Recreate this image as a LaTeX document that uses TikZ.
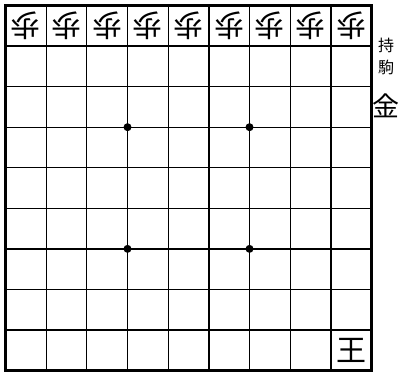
\documentclass[tikz,border=0pt]{standalone}
\usepackage{fontspec}
\newfontfamily\cjk{Noto Sans CJK JP}
\tikzset{
  gridline/.style={line width=1.3pt, black},
  border/.style={line width=3.5pt, black},
  star/.style={circle, fill=black, inner sep=0pt, minimum size=8pt},
  piece/.style={inner sep=0pt, font=\cjk\fontsize{30}{30}\selectfont},
  hand/.style={inner sep=0pt, font=\cjk\fontsize{16}{16}\selectfont},
  handpiece/.style={inner sep=0pt, font=\cjk\fontsize{27}{27}\selectfont},
}
\begin{document}
\begin{tikzpicture}[x=1pt,y=-1pt]
\useasboundingbox[fill=white] (0,0) rectangle (403,372);
\begin{scope}[shift={(5.5,5.5)}, x=40.67pt, y=-40.56pt]
  \foreach \i in {1,...,8} {
    \draw[gridline] (\i,0) -- (\i,9);
    \draw[gridline] (0,\i) -- (9,\i);
  }
  \draw[border] (0,0) rectangle (9,9);
  \foreach \a/\b [count=\k] in {3/3,6/3,3/6,6/6}
    \node[star] (s\k) at (\a,\b) {};
  \foreach \i in {0,...,8}
    \node[piece, rotate=180] (p\i) at (\i+0.5,0.5) {歩};
  \node[piece] (ou) at (8.5,8.5) {王};
\end{scope}
\node[hand] (mochi1) at (386,45) {持};
\node[hand] (mochi2) at (386,67) {駒};
\node[handpiece] (kin) at (386,106) {金};
\end{tikzpicture}
\end{document}
